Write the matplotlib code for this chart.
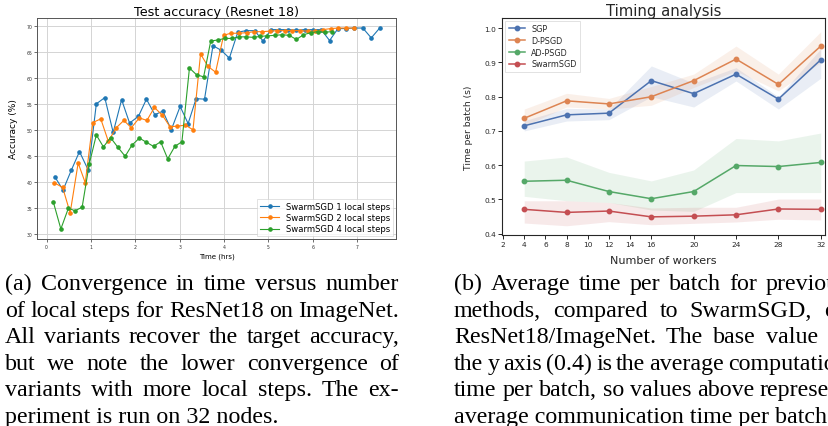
import matplotlib
matplotlib.use('Agg')
import matplotlib.pyplot as plt

W, H = 829, 427

# (a) test accuracy vs time, one series per number of local steps
t1 = [0.18, 0.37, 0.56, 0.74, 0.94, 1.12, 1.31, 1.50, 1.69, 1.87, 2.07, 2.25, 2.44, 2.62,
      2.81, 3.01, 3.19, 3.37, 3.56, 3.75, 3.94, 4.12, 4.31, 4.50, 4.69, 4.88, 5.06, 5.25,
      5.44, 5.63, 5.82, 6.00, 6.19, 6.38, 6.57, 6.75, 6.94, 7.13, 7.32, 7.51]
acc1 = [41.1, 38.5, 42.4, 45.9, 42.3, 55.1, 56.3, 49.6, 55.9, 51.4, 52.7, 56.0, 53.0, 53.7,
        50.1, 54.6, 51.3, 56.1, 56.0, 66.3, 65.4, 63.9, 68.9, 69.2, 69.2, 67.2, 69.4, 69.4,
        69.4, 69.3, 69.4, 69.4, 69.4, 67.3, 69.6, 69.6, 69.7, 69.7, 67.8, 69.7]
t2 = [0.17, 0.36, 0.53, 0.71, 0.87, 1.04, 1.22, 1.39, 1.57, 1.74, 1.91, 2.09, 2.26, 2.43,
      2.61, 2.78, 2.95, 3.13, 3.30, 3.47, 3.64, 3.81, 3.99, 4.15, 4.33, 4.51, 4.68, 4.85,
      5.03, 5.20, 5.37, 5.54, 5.72, 5.89, 6.06, 6.24, 6.41, 6.58, 6.75, 6.93]
acc2 = [39.9, 39.0, 34.1, 43.7, 39.9, 51.5, 52.2, 47.9, 50.5, 51.9, 50.5, 52.4, 51.9, 54.4,
        52.9, 50.7, 50.8, 51.0, 50.1, 64.7, 62.3, 61.2, 68.3, 68.7, 68.7, 68.8, 69.0, 69.0,
        69.1, 69.2, 69.2, 69.2, 69.2, 69.1, 69.1, 69.4, 69.6, 69.7, 69.7, 69.7]
t4 = [0.15, 0.32, 0.49, 0.64, 0.80, 0.96, 1.12, 1.28, 1.44, 1.60, 1.77, 1.92, 2.09, 2.25,
      2.41, 2.57, 2.73, 2.89, 3.05, 3.22, 3.38, 3.54, 3.70, 3.86, 4.02, 4.18, 4.34, 4.50,
      4.67, 4.82, 4.98, 5.15, 5.30, 5.47, 5.63, 5.79, 5.95, 6.11, 6.27, 6.43]
acc4 = [36.2, 31.0, 35.0, 34.5, 35.2, 43.5, 49.1, 46.8, 48.6, 46.8, 45.0, 47.1, 48.5, 47.7,
        46.9, 47.8, 44.5, 46.9, 47.8, 62.0, 60.7, 60.3, 67.2, 67.4, 67.7, 67.7, 68.0, 68.0,
        67.9, 68.1, 68.2, 68.3, 68.4, 68.3, 67.5, 68.4, 68.8, 69.0, 68.9, 69.0]

# (b) time per batch vs number of workers, mean with lower/upper band
workers = [4, 8, 12, 16, 20, 24, 28, 32]
worker_ticks = [2, 4, 6, 8, 10, 12, 14, 16, 20, 24, 28, 32]
sgp = [0.715, 0.747, 0.752, 0.847, 0.809, 0.866, 0.793, 0.908]
sgp_lo = [0.700, 0.729, 0.733, 0.800, 0.770, 0.846, 0.764, 0.854]
sgp_hi = [0.730, 0.766, 0.764, 0.890, 0.840, 0.885, 0.800, 0.940]
dpsgd = [0.737, 0.788, 0.779, 0.800, 0.847, 0.910, 0.836, 0.948]
dpsgd_lo = [0.715, 0.770, 0.764, 0.775, 0.827, 0.875, 0.817, 0.900]
dpsgd_hi = [0.764, 0.810, 0.795, 0.830, 0.866, 0.948, 0.866, 0.990]
adpsgd = [0.553, 0.556, 0.523, 0.502, 0.523, 0.599, 0.596, 0.608]
adpsgd_lo = [0.509, 0.496, 0.491, 0.469, 0.465, 0.520, 0.520, 0.520]
adpsgd_hi = [0.612, 0.624, 0.579, 0.554, 0.586, 0.678, 0.671, 0.694]
swarm = [0.471, 0.462, 0.466, 0.449, 0.451, 0.455, 0.472, 0.471]
swarm_lo = [0.431, 0.423, 0.435, 0.426, 0.430, 0.434, 0.442, 0.440]
swarm_hi = [0.496, 0.496, 0.491, 0.475, 0.477, 0.477, 0.501, 0.501]

cap_a = ["(a) Convergence in time versus number",
         "of local steps for ResNet18 on ImageNet.",
         "All variants recover the target accuracy,",
         "but we note the lower convergence of",
         "variants with more local steps. The ex-",
         "periment is run on 32 nodes."]
cap_b = ["(b) Average time per batch for previous",
         "methods, compared to SwarmSGD, on",
         "ResNet18/ImageNet. The base value of",
         "the y axis (0.4) is the average computation",
         "time per batch, so values above represent",
         "average communication time per batch."]

fig = plt.figure(figsize=(W / 100, H / 100), dpi=100)
fig.patch.set_facecolor('white')


def box(x0, x1, top, bottom):
    return [x0 / W, 1 - bottom / H, (x1 - x0) / W, (bottom - top) / H]


# ---- left panel
ax = fig.add_axes(box(37, 396, 19, 240))
ax.plot(t1, acc1, '-o', color='#1f77b4', lw=0.8, ms=2.3, label='SwarmSGD 1 local steps')
ax.plot(t2, acc2, '-o', color='#ff7f0e', lw=0.8, ms=2.3, label='SwarmSGD 2 local steps')
ax.plot(t4, acc4, '-o', color='#2ca02c', lw=0.8, ms=2.3, label='SwarmSGD 4 local steps')
ax.set_xticks(range(8))
ax.set_yticks(range(30, 71, 5))
ax.grid(color='#d4d4d4', lw=0.7)
ax.set_axisbelow(True)
ax.tick_params(labelsize=3.3, length=2, width=0.5, pad=1.5, colors='#333333')
for s in ax.spines.values():
    s.set_linewidth(0.7)
    s.set_color('#555555')
ax.set_title('Test accuracy (Resnet 18)', fontsize=9.2, pad=1.5)
ax.set_xlabel('Time (hrs)', fontsize=5)
ax.set_ylabel('Accuracy (%)', fontsize=6.5)
ax.xaxis.set_label_coords(0.5, -0.06)
ax.yaxis.set_label_coords(-0.053, 0.5)
leg = ax.legend(loc='lower right', fontsize=6.1, borderaxespad=0.3, handlelength=2.3,
                labelspacing=0.25, borderpad=0.35, fancybox=False)
leg.get_frame().set_linewidth(0.5)

# ---- right panel
bx = fig.add_axes(box(502.5, 825, 19, 236))
series = [(sgp, sgp_lo, sgp_hi, '#4c72b0', 'SGP'),
          (dpsgd, dpsgd_lo, dpsgd_hi, '#dd8452', 'D-PSGD'),
          (adpsgd, adpsgd_lo, adpsgd_hi, '#55a868', 'AD-PSGD'),
          (swarm, swarm_lo, swarm_hi, '#c44e52', 'SwarmSGD')]
for mean, lo, hi, c, name in series:
    bx.fill_between(workers, lo, hi, color=c, alpha=0.12, lw=0)
    bx.plot(workers, mean, '-o', color=c, lw=1.1, ms=3.2, label=name)
bx.set_xlim(1.95, 32.4)
bx.set_ylim(0.396, 1.03)
bx.set_xticks(worker_ticks)
bx.tick_params(labelsize=5.3, length=3, width=0.7, pad=1.5, colors='#262626')
for s in bx.spines.values():
    s.set_linewidth(0.8)
    s.set_color('#262626')
bx.set_title('Timing analysis', fontsize=10.7, pad=1.5, color='#262626')
bx.set_xlabel('Number of workers', fontsize=8, color='#262626')
bx.set_ylabel('Time per batch (s)', fontsize=6.6, color='#262626')
bx.xaxis.set_label_coords(0.5, -0.092)
bx.yaxis.set_label_coords(-0.0915, 0.5)
leg = bx.legend(loc='upper left', fontsize=5.8, borderaxespad=0.35, labelspacing=0.35,
                borderpad=0.4, fancybox=False)
leg.get_frame().set_linewidth(0.5)
for t in leg.get_texts():
    t.set_color('#262626')

# ---- captions, justified like the paper (the right one runs past the edge, as in the scan)
renderer = fig.canvas.get_renderer()


def caption(lines, x0, x1, first, step, size=17.3):
    kw = dict(fontsize=size, family='Liberation Serif', va='baseline', color='black')
    for i, line in enumerate(lines):
        y = 1 - (first + i * step) / H
        if i == len(lines) - 1:
            fig.text(x0 / W, y, line, **kw)
            continue
        words = line.split()
        texts = [fig.text(0, y, w, **kw) for w in words]
        widths = [t.get_window_extent(renderer).width for t in texts]
        gap = (x1 - x0 - sum(widths)) / (len(words) - 1)
        x = x0
        for t, w in zip(texts, widths):
            t.set_x(x / W)
            x += w + gap


caption(cap_a, 5, 399, 290, 26.6)
caption(cap_b, 454, 848, 290, 26.6)

fig.savefig('out.png', dpi=100)
